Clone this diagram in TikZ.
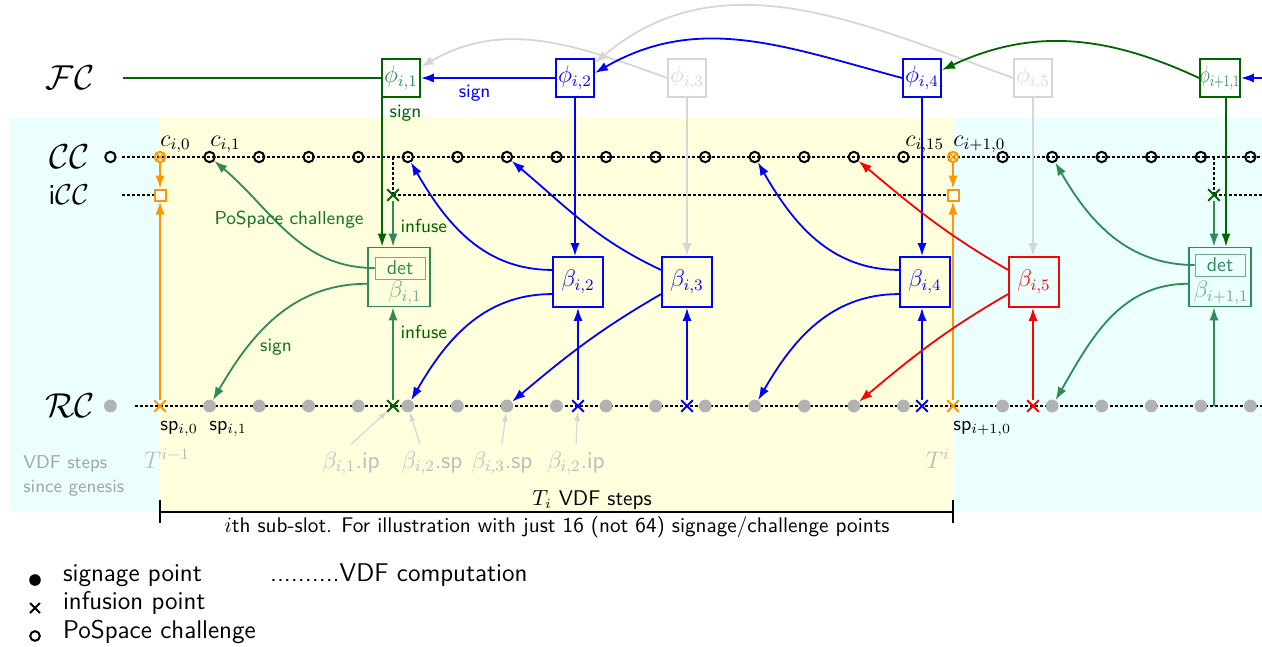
\documentclass[tikz,border=0pt]{standalone}
\usepackage{amsmath}
\usepackage{amssymb}
\usepackage{xcolor}
\usepackage{tikz}
\usetikzlibrary{shapes.misc, arrows.meta, positioning, calc}
\renewcommand{\familydefault}{\sfdefault}
\definecolor{fcgreen}{RGB}{0,100,0}
\definecolor{bgreen}{RGB}{46,139,87}
\definecolor{lblgreen}{RGB}{25,115,45}
\definecolor{vdforange}{RGB}{255,150,0}
\definecolor{ghost}{RGB}{214,214,214}
\definecolor{faint}{RGB}{188,188,188}
\definecolor{slotcyan}{RGB}{236,255,255}
\definecolor{slotyellow}{RGB}{255,255,222}

\tikzset{
  vdf/.style={line width=0.9pt, dash pattern=on 1.5pt off 1pt},
  chal/.style={circle, draw, line width=1pt, inner sep=0pt, minimum size=5.2pt},
  sigpt/.style={circle, fill=black!30, inner sep=0pt, minimum size=6.4pt},
  infpt/.style={cross out, draw=#1, line width=1pt, inner sep=0pt, minimum size=4.8pt},
  icsq/.style={rectangle, draw=vdforange, fill=white, line width=1pt, inner sep=0pt, minimum size=5.5pt},
  phibox/.style={rectangle, draw=#1, text=#1, line width=0.9pt, inner sep=0pt, minimum size=19pt, font=\large},
  betabox/.style={rectangle, draw=#1, text=#1, line width=0.9pt, inner sep=0pt, minimum size=25pt, font=\large},
  blockbox/.style={rectangle, draw=bgreen, line width=0.9pt, inner sep=0pt, minimum width=31pt, minimum height=29.5pt},
  detbox/.style={rectangle, draw=bgreen!70, inner sep=0pt, minimum width=25pt, minimum height=11pt, text=bgreen},
  chainname/.style={font=\LARGE},
  flow/.style={->, line width=0.9pt},
  ptr/.style={-{Latex[length=4.5pt, width=3pt]}, ghost, semithick},
  faintlab/.style={text=faint, font=\large, anchor=base},
  tag/.style={font=\fontsize{9.4}{11}\selectfont},
  keytext/.style={font=\fontsize{12.8}{15}\selectfont, anchor=base west},
}

\begin{document}
\begin{tikzpicture}[x=0.5pt, y=-0.5pt, >={Latex[length=6.5pt, width=4.6pt]}]
\useasboundingbox (0,0) rectangle (1262,647);

% slot backgrounds
\fill[slotcyan] (10,118) rectangle (1262,511);
\fill[slotyellow] (160,118) rectangle (953,511);

% chain names
\node[chainname] (fcname) at (70,78) {$\mathcal{FC}$};
\node[chainname] (ccname) at (70,157) {$\mathcal{CC}$};
\node[font=\Large, anchor=east] (iccname) at (96,195) {i$\mathcal{CC}$};
\node[chainname] (rcname) at (70,406) {$\mathcal{RC}$};

% VDF computations
\draw[vdf] (122,157) -- (1262,157);
\draw[vdf] (122,195) -- (160,195);
\draw[vdf] (393,195) -- (953,195);
\draw[vdf] (1214,195) -- (1262,195);
\draw[vdf] (135,406) -- (1262,406);
\draw[vdf] (393,157) -- (393,195);
\draw[vdf] (1214,157) -- (1214,195);

% challenges and signage points
\foreach \k in {-1,1,2,...,15,17,18,...,22} {
  \pgfmathsetmacro\xk{160+49.5625*\k}
  \node[chal] (cc\k) at (\xk,157) {};
  \node[sigpt] (rc\k) at (\xk,406) {};
}

% sub-slot ends
\foreach \k in {0,16} {
  \pgfmathsetmacro\xk{160+49.5625*\k}
  \node[chal, draw=vdforange] (cc\k) at (\xk,157) {};
  \node[infpt=vdforange, minimum size=3.4pt, line width=0.7pt] at (cc\k) {};
  \node[icsq] (icc\k) at (\xk,195) {};
  \node[infpt=vdforange] (rc\k) at (\xk,406) {};
  \draw[flow, vdforange] (cc\k) -- (icc\k);
  \draw[flow, vdforange] (rc\k) -- (icc\k);
}

% infusion points
\node[infpt=fcgreen] (icx1) at (393,195) {};
\node[infpt=fcgreen] (icx6) at (1214,195) {};
\node[infpt=fcgreen] (rcx1) at (393,406) {};
\node[infpt=blue] (rcx2) at (578,406) {};
\node[infpt=blue] (rcx3) at (687,406) {};
\node[infpt=blue] (rcx4) at (922,406) {};
\node[infpt=red] (rcx5) at (1033,406) {};
\coordinate (rcx6) at (1214,406);

% foliage blocks
\node[phibox=fcgreen, text=bgreen] (phi1) at (401,78) {$\phi_{i,1}$};
\node[phibox=blue] (phi2) at (575,78) {$\phi_{i,2}$};
\node[phibox=ghost] (phi3) at (687,78) {$\phi_{i,3}$};
\node[phibox=blue] (phi4) at (922,78) {$\phi_{i,4}$};
\node[phibox=ghost] (phi5) at (1033,78) {$\phi_{i,5}$};
\node[phibox=fcgreen, text=bgreen] (phi6) at (1220,78) {\scalebox{0.72}[1]{$\phi_{i+1,1}$}};
\coordinate (fcstart) at (123,78);
\coordinate (fcend) at (1262,78);

% reward chain blocks
\node[blockbox] (beta1) at (399,277) {};
\node[detbox] (det1) at (400,268) {det};
\node[text=bgreen!70, font=\large] (blab1) at (405,293) {$\beta_{i,1}$};
\node[betabox=blue] (beta2) at (578,282) {$\beta_{i,2}$};
\node[betabox=blue] (beta3) at (687,282) {$\beta_{i,3}$};
\node[betabox=blue] (beta4) at (925,282) {$\beta_{i,4}$};
\node[betabox=red] (beta5) at (1034,282) {$\beta_{i,5}$};
\node[blockbox] (beta6) at (1220,277) {};
\node[detbox] (det6) at (1220,265) {det};
\node[text=bgreen!70, font=\large] (blab6) at (1221,293) {$\beta_{i+1,1}$};

% foliage links
\draw[line width=0.9pt, fcgreen] (fcstart) -- (phi1);
\draw[flow, ghost] (phi3.west) to[out=160, in=30] ($(phi1.east)+(0,-11)$);
\draw[flow, ghost] (phi5.west) to[out=160, in=40] ($(phi2.east)+(0,-15)$);
\draw[flow, blue] (phi2) -- node[below, pos=0.6, tag] {sign} (phi1);
\draw[flow, blue] (phi4.west) to[out=165, in=30] ($(phi2.east)+(0,-5)$);
\draw[flow, fcgreen] (phi6.west) to[out=155, in=25] ($(phi4.east)+(0,-8)$);
\draw[flow, blue] (fcend) -- (phi6);

% foliage to blocks
\coordinate (phi1foot) at ($(phi1.south west)+(1,0)$);
\coordinate (phi6foot) at ($(phi6.south)+(6,0)$);
\draw[flow, fcgreen] (phi1foot) -- node[pos=0.1, right, text=fcgreen, tag] {sign} (phi1foot |- beta1.north);
\draw[flow, blue] (phi2) -- (phi2 |- beta2.north);
\draw[flow, ghost] (phi3) -- (phi3 |- beta3.north);
\draw[flow, blue] (phi4) -- (phi4 |- beta4.north);
\draw[flow, ghost] (phi5) -- (phi5 |- beta5.north);
\draw[flow, fcgreen] (phi6foot) -- (phi6foot |- beta6.north);

% infusions
\draw[flow, bgreen] (icx1) -- node[right, pos=0.55, text=fcgreen, tag] {infuse} (icx1 |- beta1.north);
\draw[flow, bgreen] (rcx1) -- node[right, pos=0.73, text=fcgreen, tag] {infuse} (rcx1 |- beta1.south);
\draw[flow, blue] (rcx2) -- (rcx2 |- beta2.south);
\draw[flow, blue] (rcx3) -- (rcx3 |- beta3.south);
\draw[flow, blue] (rcx4) -- (rcx4 |- beta4.south);
\draw[flow, red] (rcx5) -- (rcx5 |- beta5.south);
\draw[flow, bgreen] (icx6) -- (icx6 |- beta6.north);
\draw[flow, bgreen] (rcx6) -- (rcx6 |- beta6.south);

% challenges and signatures
\draw[flow, bgreen] (det1.west) to[out=180, in=-40] (cc1);
\draw[flow, bgreen] (beta1.192) to[out=180, in=60] (rc1);
\draw[flow, blue] (beta2.155) to[out=180, in=-60] (cc5);
\draw[flow, blue] (beta2.205) to[out=180, in=60] (rc5);
\draw[flow, blue] (beta3.155) to[out=155, in=-40] (cc7);
\draw[flow, blue] (beta3.205) to[out=210, in=40] (rc7);
\draw[flow, blue] (beta4.155) to[out=180, in=-60] (cc12);
\draw[flow, blue] (beta4.205) to[out=180, in=60] (rc12);
\draw[flow, red] (beta5.155) to[out=150, in=-40] (cc14);
\draw[flow, red] (beta5.205) to[out=210, in=40] (rc14);
\draw[flow, bgreen] (det6.west) to[out=180, in=-60] (cc18);
\draw[flow, bgreen] (beta6.192) to[out=180, in=60] (rc18);
\node[text=lblgreen, tag] (pclab) at (289,220) {PoSpace challenge};
\node[text=lblgreen, tag] (signlab) at (276,347) {sign};

% point names
\node[font=\large, anchor=base west, inner sep=0pt] (ci0) at (160,146) {$c_{i,0}$};
\node[font=\large, anchor=base west, inner sep=0pt] (ci1) at (210,146) {$c_{i,1}$};
\node[font=\large, anchor=base west, inner sep=0pt] (ci15) at (905,146) {$c_{i,15}$};
\node[font=\large, anchor=base west, inner sep=0pt] (ci16) at (953,146) {$c_{i+1,0}$};
\node[anchor=base west, inner sep=0pt] (sp0) at (160,430) {sp$_{i,0}$};
\node[anchor=base west, inner sep=0pt] (sp1) at (209,430) {sp$_{i,1}$};
\node[anchor=base west, inner sep=0pt] (sp16) at (953,430) {sp$_{i+1,0}$};

% positions on the reward chain
\node[faintlab] (ipl1) at (351,468) {$\beta_{i,1}$.ip};
\node[faintlab] (spl2) at (432,468) {$\beta_{i,2}$.sp};
\node[faintlab] (spl3) at (502,468) {$\beta_{i,3}$.sp};
\node[faintlab] (ipl2) at (576,468) {$\beta_{i,2}$.ip};
\draw[ptr] (ipl1.north) -- (rcx1);
\draw[ptr] ($(spl2.north)+(-12,0)$) -- (rc5);
\draw[ptr] (spl3.north) -- (rc7);
\draw[ptr] (ipl2.north) -- (rcx2);
\node[faintlab] (tprev) at (167,468) {$T^{i-1}$};
\node[faintlab, anchor=base east] (tcur) at (957,468) {$T^{i}$};
\node[text=black!35, align=left, anchor=north west, inner sep=0pt, font=\fontsize{9.3}{12}\selectfont] (genesis) at (23,455) {VDF steps\\since genesis};

% sub-slot bracket
\coordinate (slotL) at (160,512);
\coordinate (slotR) at (953,512);
\draw[line width=0.9pt] (slotL) -- (slotR);
\draw[line width=0.9pt] ($(slotL)+(0,-12)$) -- ($(slotL)+(0,11)$);
\draw[line width=0.9pt] ($(slotR)+(0,-12)$) -- ($(slotR)+(0,11)$);
\node[anchor=base, font=\fontsize{10.6}{13}\selectfont] (tilab) at (592,505) {$T_i$ VDF steps};
\node[anchor=base, font=\fontsize{10.6}{13}\selectfont] (slotlab) at (557,532) {$i$th sub-slot. For illustration with just 16 (not 64) signage/challenge points};

% legend
\node[circle, fill=black, inner sep=0pt, minimum size=5.8pt] (lgsig) at (35,580) {};
\node[cross out, draw, line width=1pt, inner sep=0pt, minimum size=4pt] (lginf) at (35,608) {};
\node[circle, draw, line width=1pt, inner sep=0pt, minimum size=4.8pt] (lgchal) at (35,636) {};
\node[keytext] (lgsigtxt) at (56,581) {signage point};
\node[keytext] (lginftxt) at (56,609) {infusion point};
\node[keytext] (lgchaltxt) at (56,638) {PoSpace challenge};
\node[keytext] (lgvdftxt) at (263,581) {..........VDF computation};
\end{tikzpicture}
\end{document}
